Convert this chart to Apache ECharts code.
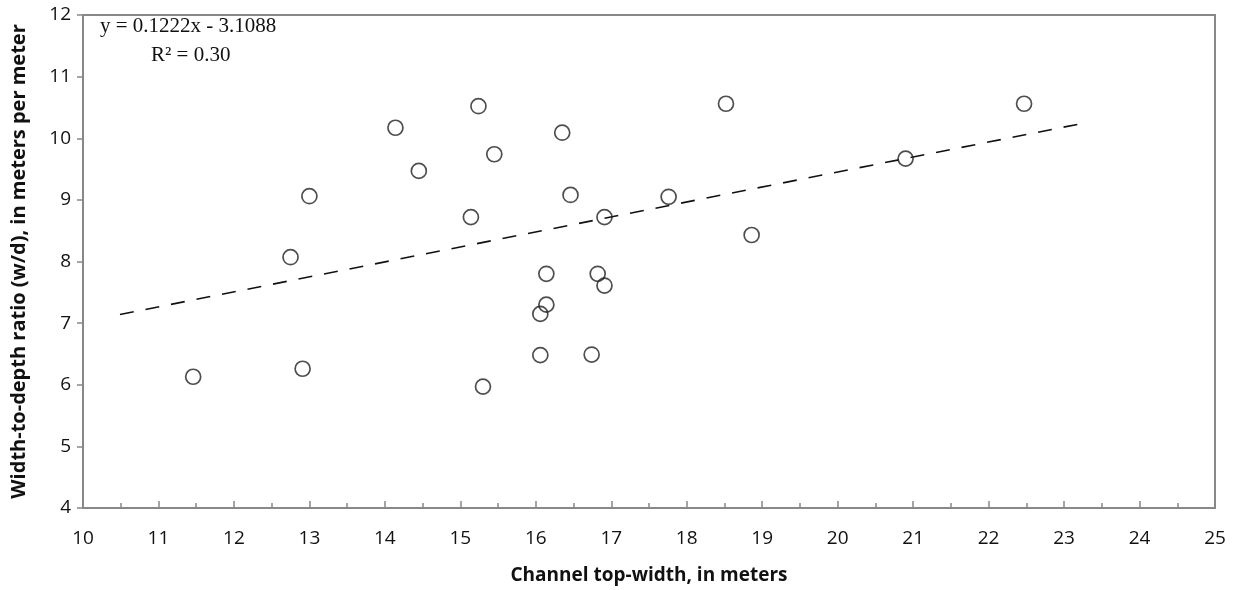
<!DOCTYPE html>
<html><head><meta charset="utf-8">
<script src="https://cdn.jsdelivr.net/npm/echarts@6/dist/echarts.min.js"></script>
<style>html,body{margin:0;padding:0;background:#fff}#c{width:1237px;height:590px}</style>
</head><body><div id="c"></div>
<script>
const widthX = [14.14,13.00,12.75,14.45,15.24,16.35,15.45,18.52,16.46,17.76,15.14,16.91,18.86,16.14,16.82,16.91,16.14,16.06,16.06,16.74,15.30,20.90,22.47,11.46,12.91];
const ratioY = [10.17,9.06,8.07,9.47,10.52,10.09,9.74,10.56,9.08,9.05,8.72,8.72,8.43,7.80,7.80,7.61,7.30,7.15,6.48,6.49,5.97,9.67,10.56,6.13,6.26];
const trendX = [10.49, 23.28];
const trendY = [7.14, 10.25];
const eqText = 'y = 0.1222x - 3.1088';
const r2Text = 'R² = 0.30';
const xTitle = 'Channel top-width, in meters';
const yTitle = 'Width-to-depth ratio (w/d), in meters per meter';

const chart = echarts.init(document.getElementById('c'));
const tickFont = {fontFamily:'Open Sans', fontSize:19, color:'#111'};
chart.setOption({
  animation:false,
  grid:{left:83, right:22, top:15, bottom:80, show:true, borderColor:'#888', borderWidth:2, backgroundColor:'#fff'},
  xAxis:{type:'value', min:10, max:25, interval:1,
    name:xTitle, nameLocation:'middle', nameGap:58,
    nameTextStyle:{fontFamily:'Open Sans', fontWeight:'bold', fontSize:19, color:'#111'},
    axisLine:{lineStyle:{color:'#888', width:2}},
    axisTick:{inside:true, length:7, lineStyle:{color:'#888', width:1.5}},
    minorTick:{show:true, splitNumber:2, length:5, lineStyle:{color:'#888', width:1.5}},
    axisLabel:Object.assign({margin:21}, tickFont),
    splitLine:{show:false}},
  yAxis:{type:'value', min:4, max:12, interval:1,
    name:yTitle, nameLocation:'middle', nameGap:54, nameRotate:90,
    nameTextStyle:{fontFamily:'Open Sans', fontWeight:'bold', fontSize:20, color:'#111'},
    axisLine:{show:true, lineStyle:{color:'#888', width:2}},
    axisTick:{show:true, inside:false, length:6, lineStyle:{color:'#888', width:1.5}},
    axisLabel:Object.assign({margin:12}, tickFont),
    splitLine:{show:false}},
  series:[
    {type:'line', data:trendX.map((x,i)=>[x,trendY[i]]), symbol:'none', silent:true,
     lineStyle:{color:'#111', width:1.6, type:[14,12]}, z:1},
    {type:'scatter', data:widthX.map((x,i)=>[x,ratioY[i]]), symbol:'circle', symbolSize:15,
     itemStyle:{color:'rgba(255,255,255,0)', borderColor:'#222', borderWidth:1.7}, z:2}
  ],
  graphic:[
    {type:'text', left:100, top:16, style:{text:eqText, fontFamily:'Liberation Serif', fontSize:21, fill:'#111'}},
    {type:'text', left:151, top:45, style:{text:r2Text, fontFamily:'Liberation Serif', fontSize:21, fill:'#111'}}
  ]
});
</script></body></html>
